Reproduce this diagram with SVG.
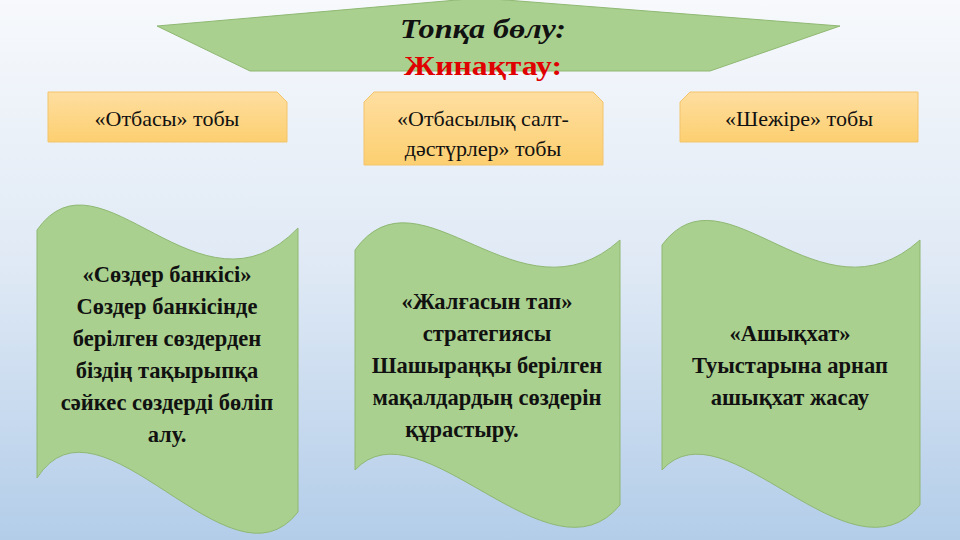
<svg xmlns="http://www.w3.org/2000/svg" width="960" height="540" viewBox="0 0 960 540">
<defs>
<linearGradient id="bg" x1="0" y1="0" x2="0" y2="1"><stop offset="0" stop-color="#f7f9fc"/><stop offset="0.5" stop-color="#dfe9f5"/><stop offset="1" stop-color="#b3cde9"/></linearGradient>
<linearGradient id="or" x1="0" y1="0" x2="0" y2="1"><stop offset="0" stop-color="#fedea0"/><stop offset="1" stop-color="#fccf70"/></linearGradient>
<style>
.w{fill:#a9d08e;stroke:#8fb873;stroke-width:1}
.o{fill:url(#or);stroke:#f3c46c;stroke-width:1}
.t{font-family:"Liberation Serif",serif;font-size:22px;text-anchor:middle;fill:#111}
.b{font-family:"Liberation Serif",serif;font-size:22.5px;font-weight:bold;text-anchor:middle;fill:#111}
</style>
</defs>
<rect width="960" height="540" fill="url(#bg)"/>
<g id="title">
<polygon points="157,26 480,-2 840,26 710,71 250,71" class="w"/>
<text x="483" y="38" font-family="Liberation Serif,serif" font-size="28" font-weight="bold" font-style="italic" text-anchor="middle" fill="#111" textLength="166" lengthAdjust="spacingAndGlyphs">Топқа бөлу:</text>
<text x="483" y="75" font-family="Liberation Serif,serif" font-size="28" font-weight="bold" text-anchor="middle" fill="#e00000" textLength="158" lengthAdjust="spacingAndGlyphs">Жинақтау:</text>
</g>
<g id="connectors"/>
<g id="g1"><path class="o" d="M48,92 H277 L287,102 V142 H48 Z"/><text class="t" x="167" y="126">«Отбасы» тобы</text></g>
<g id="g2"><path class="o" d="M374,92 H593 L603,102 V165 H364 V102 Z"/><text class="t" x="483" y="126">«Отбасылық салт-</text><text class="t" x="483" y="156">дәстүрлер» тобы</text></g>
<g id="g3"><path class="o" d="M690,92 H918 V142 H680 V102 Z"/><text class="t" x="799" y="126">«Шежіре» тобы</text></g>
<g id="n1"><path class="w" d="M37,230 C100,140 200,330 298,228 L298,512 C230,600 100,380 37,478 Z"/>
<text class="b" x="167" y="282">«Сөздер банкісі»</text><text class="b" x="167" y="314">Сөздер банкісінде</text><text class="b" x="167" y="346">берілген сөздерден</text><text class="b" x="167" y="378">біздің тақырыпқа</text><text class="b" x="167" y="410">сәйкес сөздерді бөліп</text><text class="b" x="167" y="442">алу.</text></g>
<g id="n2"><path class="w" d="M355,250 C420,160 520,330 620,240 L620,505 C550,590 420,400 355,470 Z"/>
<text class="b" x="487" y="309">«Жалғасын тап»</text><text class="b" x="487" y="341">стратегиясы</text><text class="b" x="487" y="373">Шашыраңқы берілген</text><text class="b" x="487" y="405">мақалдардың сөздерін</text><text class="b" x="462" y="437">құрастыру.</text></g>
<g id="n3"><path class="w" d="M662,245 C725,160 820,330 920,240 L920,505 C850,590 725,400 662,470 Z"/>
<text class="b" x="790" y="341">«Ашықхат»</text><text class="b" x="790" y="373">Туыстарына арнап</text><text class="b" x="790" y="405">ашықхат жасау</text></g>
</svg>
